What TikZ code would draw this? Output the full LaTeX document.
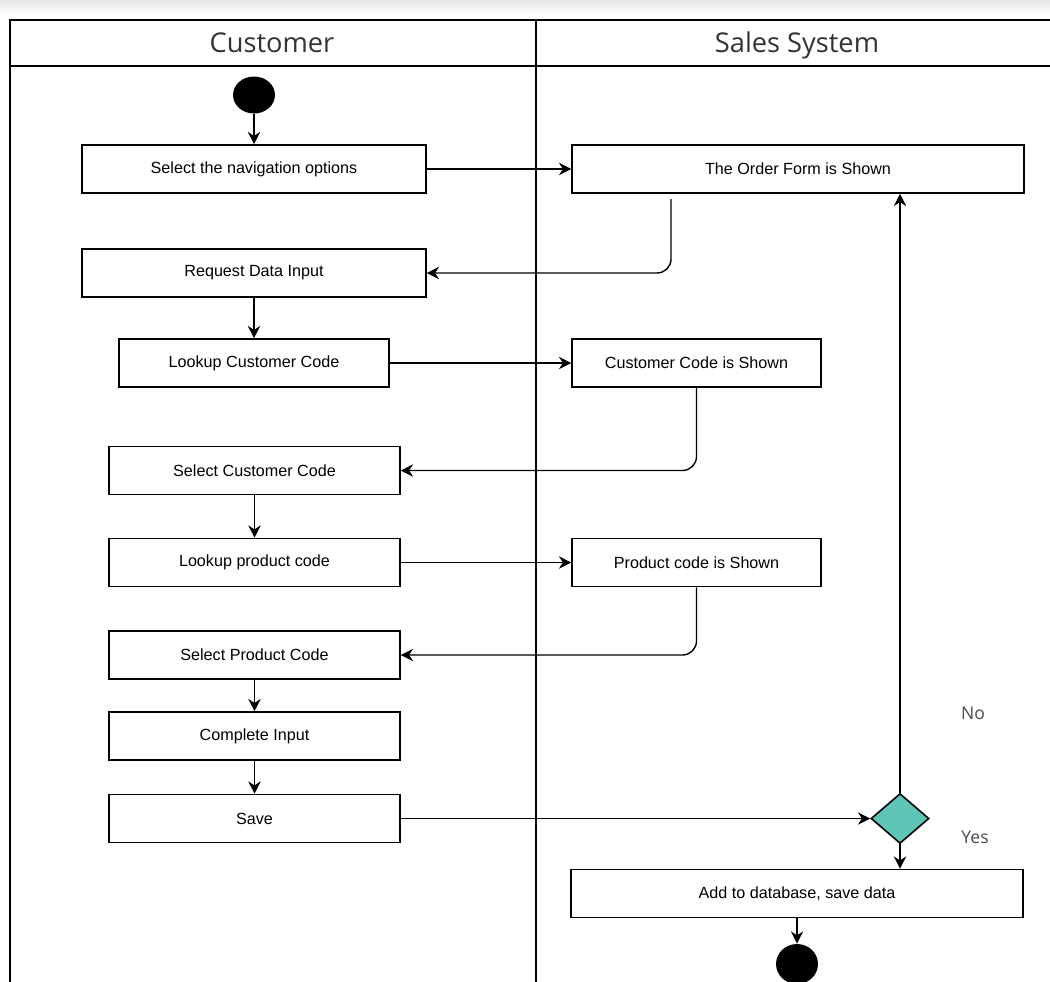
\documentclass[tikz,border=0pt]{standalone}
\usepackage{fontspec}
\setmainfont{Liberation Sans}
\newfontfamily\headfont{Open Sans}
\usetikzlibrary{arrows.meta,shapes.geometric}
\definecolor{decteal}{HTML}{5EC4B6}
\definecolor{headgray}{HTML}{333333}
\definecolor{lblgray}{HTML}{4A4A55}
\tikzset{
  actbox/.style={draw, line width=0.9pt, minimum height=0.96cm, inner sep=0pt,
    font=\fontsize{9.2}{10}\selectfont},
  flow/.style={-{Stealth[length=7pt,width=7pt]}, line width=0.8pt},
  blackdot/.style={ellipse, fill=black, minimum width=0.84cm, minimum height=0.74cm, inner sep=0pt},
  decision/.style={diamond, draw, fill=decteal, line width=0.9pt, aspect=1.16,
    minimum width=1.16cm, minimum height=1cm, inner sep=0pt},
  lanehead/.style={font=\headfont\fontsize{15.5}{17}\selectfont, text=headgray, anchor=base},
  guard/.style={font=\headfont\fontsize{10}{12}\selectfont, text=lblgray}
}
\begin{document}
\begin{tikzpicture}[x=0.02cm,y=-0.02cm]
  \useasboundingbox (0,0) rectangle (1050,981);
  \clip (0,0) rectangle (1050,981);
  \shade[top color=gray!20, bottom color=white] (0,0) rectangle (1050,15);

  % swimlanes
  \draw[line width=0.9pt] (10,990) -- (10,20) -- (1060,20);
  \draw[line width=0.9pt] (10,66) -- (1060,66);
  \draw[line width=0.9pt] (536,20) -- (536,990);
  \node[lanehead] (custlane) at (272,52) {Customer};
  \node[lanehead] (syslane) at (797,52) {Sales System};

  % customer side
  \node[blackdot] (start) at (254,95) {};
  \node[actbox, minimum width=6.88cm] (navopt) at (254,169) {Select the navigation options};
  \node[actbox, minimum width=6.88cm] (reqinput) at (254,273) {Request Data Input};
  \node[actbox, minimum width=5.4cm] (lookcust) at (254,363) {Lookup Customer Code};
  \node[actbox, minimum width=5.82cm] (selcust) at (254.5,470.5) {Select Customer Code};
  \node[actbox, minimum width=5.82cm] (lookprod) at (254.5,562.5) {Lookup product code};
  \node[actbox, minimum width=5.82cm] (selprod) at (254.5,655) {Select Product Code};
  \node[actbox, minimum width=5.82cm] (complete) at (254.5,736) {Complete Input};
  \node[actbox, minimum width=5.82cm] (save) at (254.5,818.5) {Save};

  % system side
  \node[actbox, minimum width=9.04cm] (orderform) at (798,169) {The Order Form is Shown};
  \node[actbox, minimum width=4.98cm] (custshown) at (696.5,363) {Customer Code is Shown};
  \node[actbox, minimum width=4.98cm] (prodshown) at (696.5,562.5) {Product code is Shown};
  \node[decision] (check) at (900,818.5) {};
  \node[actbox, minimum width=9.04cm] (adddb) at (797,893.5) {Add to database, save data};
  \node[blackdot, minimum width=0.84cm, minimum height=0.8cm] (stop) at (797,964) {};

  \node[guard] (nolbl) at (973,713) {No};
  \node[guard] (yeslbl) at (975,837) {Yes};

  % flows
  \draw[flow] (start) -- (navopt);
  \draw[flow] (navopt) -- (orderform);
  \draw[flow, rounded corners=8pt] ([xshift=-2.54cm,yshift=-3pt]orderform.south) |- (reqinput.east);
  \draw[flow] (reqinput) -- (lookcust);
  \draw[flow] (lookcust) -- (custshown);
  \draw[flow, rounded corners=8pt] (custshown.south) |- (selcust.east);
  \draw[flow] (selcust) -- (lookprod);
  \draw[flow] (lookprod) -- (prodshown);
  \draw[flow, rounded corners=8pt] (prodshown.south) |- (selprod.east);
  \draw[flow] (selprod) -- (complete);
  \draw[flow] (complete) -- (save);
  \draw[flow] (save.east) -- (check.west);
  \draw[flow] (check.north) -- (check.north |- orderform.south);
  \draw[flow] (check.south) -- (check.south |- adddb.north);
  \draw[flow] (adddb) -- (stop);
\end{tikzpicture}
\end{document}
